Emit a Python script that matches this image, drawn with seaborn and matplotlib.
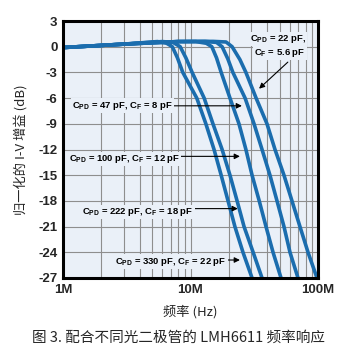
import matplotlib
matplotlib.use("Agg")
import matplotlib.pyplot as plt
from matplotlib.ticker import LogLocator, NullFormatter
import numpy as np
import pandas as pd
import seaborn as sns

# ---- data (frequency in MHz, gain in dB) ----
f_330 = [1, 3, 5.5, 6.5, 7.2, 7.9, 8.7, 11.2, 13.2, 15.3, 17.4, 19.7, 22.3, 25.8, 30.4, 32.5]
g_330 = [-0.1, 0.3, 0.6, 0.4, 0.0, -1.3, -3, -6, -9, -12, -15, -18, -21, -24, -27, -28]

f_222 = [1, 3, 6, 7.3, 8.3, 9.2, 10.3, 12.8, 15.0, 17.7, 20.4, 23.2, 26.3, 31.0, 36.4, 39.0]
g_222 = [-0.1, 0.3, 0.6, 0.5, 0.0, -1.3, -3, -6, -9, -12, -15, -18, -21, -24, -27, -28]

f_100 = [1, 3, 8, 11, 13.3, 14.7, 16.0, 17.4, 20.4, 24.0, 27.2, 30.4, 34.6, 39.1, 44.4, 51.3, 54.5]
g_100 = [-0.1, 0.3, 0.6, 0.6, 0.4, 0.0, -1.3, -3, -6, -9, -12, -15, -18, -21, -24, -27, -28]

f_47 = [1, 3, 8, 13, 16, 17.7, 19.6, 21.5, 26.8, 31.5, 36.4, 42.0, 47.7, 54.1, 60.3, 69.7, 73.5]
g_47 = [-0.1, 0.3, 0.6, 0.62, 0.5, 0.0, -1.4, -3, -6, -9, -12, -15, -18, -21, -24, -27, -28]

f_22 = [1, 3, 8, 15, 19, 21.2, 24.4, 27.2, 32.7, 39.8, 46.0, 54.1, 62.5, 72.2, 83.5, 98.2, 104]
g_22 = [-0.1, 0.3, 0.6, 0.62, 0.55, 0.0, -1.5, -3, -6, -9, -12, -15, -18, -21, -24, -27, -28]

curve_names = ["330", "222", "100", "47", "22"]
curve_f = [f_330, f_222, f_100, f_47, f_22]
curve_g = [g_330, g_222, g_100, g_47, g_22]

y_ticks = [-27, -24, -21, -18, -15, -12, -9, -6, -3, 0, 3]
x_ticks = [1e6, 1e7, 1e8]
x_ticklabels = ["1M", "10M", "100M"]

rows = []
for name, fs, gs in zip(curve_names, curve_f, curve_g):
    for fv, gv in zip(fs, gs):
        rows.append({"curve": name, "freq": fv * 1e6, "gain": gv})
df = pd.DataFrame(rows)

# ---- style ----
sns.set_style("white")
plt.rcParams["font.family"] = ["Liberation Sans Narrow", "Liberation Sans", "DejaVu Sans"]
cjk = ["Noto Sans CJK SC", "DejaVu Sans"]
narrow = ["Liberation Sans Narrow", "Liberation Sans", "DejaVu Sans"]

line_color = "#1B6DAE"
bg = "#EAF0F8"

fig = plt.figure(figsize=(3.57, 3.53), dpi=100)
ax = fig.add_axes([63 / 357, 1 - 278 / 353, (318 - 63) / 357, (278 - 21) / 353])
ax.set_facecolor(bg)

sns.lineplot(data=df, x="freq", y="gain", hue="curve", palette=[line_color] * 5,
             legend=False, ax=ax, linewidth=2.6, sort=False, estimator=None)

ax.set_xscale("log")
ax.set_xlim(1e6, 1e8)
ax.set_ylim(-27, 3)
ax.set_yticks(y_ticks)
ax.set_yticklabels([str(v) for v in y_ticks], fontfamily=narrow, fontweight="bold", fontsize=9.5)
ax.set_xticks(x_ticks)
ax.set_xticklabels(x_ticklabels, fontfamily=narrow, fontweight="bold", fontsize=9.5)
ax.xaxis.set_minor_locator(LogLocator(base=10, subs=np.arange(2, 10)))
ax.xaxis.set_minor_formatter(NullFormatter())
ax.grid(which="both", axis="both", color="#8E8E8E", linewidth=0.8)
ax.set_axisbelow(True)
ax.tick_params(which="both", length=0, pad=4)
for s in ax.spines.values():
    s.set_linewidth(2.2)
    s.set_color("black")
    s.set_zorder(5)

ax.set_xlabel("频率 (Hz)", fontfamily=cjk, fontsize=9.5, labelpad=7)
ax.set_ylabel("归一化的 I-V 增益 (dB)", fontfamily=cjk, fontsize=9.5, labelpad=8)

# ---- annotations ----
box = dict(facecolor=bg, edgecolor="none", pad=1.0)
tkw = dict(fontfamily=narrow, fontweight="bold", fontsize=6.8, color="black", zorder=6)
akw = dict(arrowstyle="-|>", color="black", lw=0.8, mutation_scale=8, shrinkA=0, shrinkB=0)

ax.text(80e6, 0.9, r"C$_\mathregular{PD}$ = 22 pF,", ha="right", va="center", bbox=box, **tkw)
ax.text(80e6, -0.7, r"C$_\mathregular{F}$ = 5.6 pF", ha="right", va="center", bbox=box, **tkw)
ax.annotate("", xy=(34.5e6, -4.9), xytext=(58e6, -1.8), arrowprops=akw, zorder=4)

ax.text(1.18e6, -6.9, r"C$_\mathregular{PD}$ = 47 pF, C$_\mathregular{F}$ = 8 pF", ha="left", va="center", bbox=box, **tkw)
ax.annotate("", xy=(25.3e6, -6.9), xytext=(6.2e6, -6.9), arrowprops=akw, zorder=4)

ax.text(1.11e6, -13.1, r"C$_\mathregular{PD}$ = 100 pF, C$_\mathregular{F}$ = 12 pF", ha="left", va="center", bbox=box, **tkw)
ax.annotate("", xy=(24.4e6, -12.8), xytext=(6.0e6, -12.8), arrowprops=akw, zorder=4)

ax.text(1.41e6, -19.3, r"C$_\mathregular{PD}$ = 222 pF, C$_\mathregular{F}$ = 18 pF", ha="left", va="center", bbox=box, **tkw)
ax.annotate("", xy=(23.5e6, -18.9), xytext=(8.7e6, -18.9), arrowprops=akw, zorder=4)

ax.text(2.56e6, -25.1, r"C$_\mathregular{PD}$ = 330 pF, C$_\mathregular{F}$ = 22 pF", ha="left", va="center", bbox=box, **tkw)
ax.annotate("", xy=(24.4e6, -24.9), xytext=(15.6e6, -24.9), arrowprops=akw, zorder=4)

fig.text(0.5, 1 - 338 / 353, "图 3. 配合不同光二极管的 LMH6611 频率响应", ha="center", va="center",
         fontfamily=cjk, fontsize=10.5)

fig.savefig("out.png", dpi=100)
